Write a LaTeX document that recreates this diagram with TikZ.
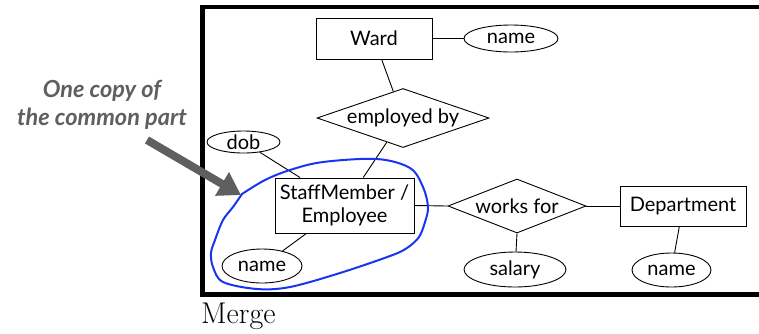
\documentclass[tikz,border=0pt]{standalone}
\usepackage{fontspec}
\newfontfamily\erfont{Lato}
\usetikzlibrary{shapes.geometric,arrows.meta}
\definecolor{callgray}{HTML}{5F5F5F}
\definecolor{loopblue}{HTML}{1A35F0}
\tikzset{
  erfont/.style={font=\erfont\fontsize{20}{23}\selectfont},
  ent/.style={draw, rectangle, line width=0.9pt, inner sep=0pt, erfont, align=center},
  attr/.style={draw, ellipse, line width=0.9pt, inner sep=0pt, erfont},
  rel/.style={draw, diamond, line width=0.9pt, inner sep=0pt, erfont},
  link/.style={line width=0.9pt},
  frame/.style={line width=4.5pt},
  calloutarrow/.style={line width=8pt, callgray, -{Triangle[length=22pt,width=26pt]}},
  loop/.style={loopblue, line width=2pt, line join=round}
}
\begin{document}
\begin{tikzpicture}[x=1pt, y=-1pt]
\useasboundingbox (0,0) rectangle (759,333);
\clip (0,0) rectangle (759,333);
\fill[white] (0,0) rectangle (759,333);
% frame
\draw[frame] (202.5,7) rectangle (780,294.5);
% nodes
\node[ent, minimum width=116pt, minimum height=41pt] (ward) at (374,38.5) {Ward};
\node[attr, minimum width=94pt, minimum height=27pt] (wname) at (511,38.5) {name};
\node[rel, aspect=2.9, minimum width=172pt, minimum height=59pt] (emp) at (403,118) {employed by};
\node[attr, minimum width=73pt, minimum height=22pt] (dob) at (243.5,142) {dob};
\node[ent, minimum width=139pt, minimum height=55pt] (staff) at (344.5,205.5) {StaffMember /\\Employee};
\node[attr, minimum width=80pt, minimum height=34pt] (sname) at (262,266) {name};
\node[rel, aspect=2.55, minimum width=138pt, minimum height=54pt] (works) at (517,206) {works for};
\node[ent, minimum width=126pt, minimum height=40pt] (dept) at (683,206) {Department};
\node[attr, minimum width=102pt, minimum height=35pt] (salary) at (515,269.5) {salary};
\node[attr, minimum width=79pt, minimum height=34pt] (dname) at (671.5,270) {name};
% connectors
\draw[link] (ward) -- (wname);
\draw[link] (ward) -- (emp);
\draw[link] (emp) -- (staff);
\draw[link] (dob) -- (staff);
\draw[link] (sname) -- (staff);
\draw[link] (staff.east) -- (works.west);
\draw[link] (works.east) -- (dept.west);
\draw[link] (works.south) -- (salary);
\draw[link] (dept) -- (dname);
% blue loop
\draw[loop] plot[smooth, tension=0.55] coordinates {(242,194) (265,180) (290,170) (323,162) (377,159) (410,168) (423,187) (428,207) (425,222) (419,237) (407,248) (390,256) (340,273) (290,287) (257,289) (223,282) (213,267) (211,253) (215,240) (223,220) (233,207) (242,194)};
% callout
\node[anchor=base, inner sep=0pt, font=\erfont\fontsize{23.5}{28}\selectfont\bfseries\itshape, text=callgray, align=center] (callout) at (102,125) {One copy of\\the common part};
\coordinate (arrtail) at (147,140);
\coordinate (arrtip) at (241,195);
\draw[calloutarrow] (arrtail) -- (arrtip);
% caption
\node[anchor=base west, inner sep=0pt, font=\fontsize{30}{35}\selectfont] (merge) at (201,323) {Merge};
\end{tikzpicture}
\end{document}
